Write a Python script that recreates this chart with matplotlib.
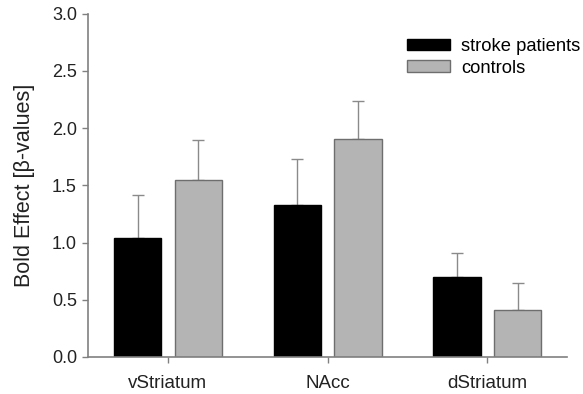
import matplotlib
matplotlib.use("Agg")
import matplotlib.pyplot as plt
import numpy as np

plt.rcParams['font.family'] = ['Liberation Sans', 'DejaVu Sans']

categories = ["vStriatum", "NAcc", "dStriatum"]
series_names = ["stroke patients", "controls"]
patients = [1.04, 1.33, 0.70]
patients_err = [0.38, 0.40, 0.21]
controls = [1.55, 1.905, 0.41]
controls_err = [0.35, 0.335, 0.24]
yticks = [0.0, 0.5, 1.0, 1.5, 2.0, 2.5, 3.0]

fig = plt.figure(figsize=(5.83, 3.94), dpi=100)
ax = fig.add_axes([0.151, 0.094, 0.822, 0.871])

x = np.arange(len(categories))
w = 0.296
off = 0.19
spine_col = "#808080"
text_col = "#222222"
err_kw = dict(ecolor="#8a8a8a", elinewidth=1.0, capsize=4, capthick=1.0)

ax.bar(x - off, patients, w, color="black", edgecolor="black", linewidth=1,
       label=series_names[0], zorder=2)
ax.errorbar(x - off, patients, yerr=[np.zeros(3), patients_err], fmt="none",
            zorder=1, **err_kw)
ax.bar(x + off, controls, w, color="#b4b4b4", edgecolor="#6e6e6e", linewidth=1,
       label=series_names[1], zorder=2)
ax.errorbar(x + off, controls, yerr=[np.zeros(3), controls_err], fmt="none",
            zorder=1, **err_kw)

ax.set_xlim(-0.5, 2.5)
ax.set_ylim(0, 3.0)
ax.set_yticks(yticks)
ax.set_yticklabels([f"{v:.1f}" for v in yticks])
ax.set_xticks(x)
ax.set_xticklabels(categories, fontsize=13.5)
ax.tick_params(axis='y', labelsize=13, length=4, width=1, direction='out',
               colors=spine_col, labelcolor=text_col, pad=4)
ax.tick_params(axis='x', length=4, width=1, colors=spine_col, labelcolor=text_col,
               pad=9)
for s in ["top", "right"]:
    ax.spines[s].set_visible(False)
for s in ["left", "bottom"]:
    ax.spines[s].set_color(spine_col)
    ax.spines[s].set_linewidth(1.2)

ax.set_ylabel("Bold Effect [β-values]", fontsize=15.5, color=text_col, labelpad=12)

leg = ax.legend(loc="upper left", bbox_to_anchor=(407 / 583, 1 - 38 / 394),
                bbox_transform=fig.transFigure, frameon=False,
                fontsize=13.2, handlelength=2.35, handleheight=0.6,
                handletextpad=0.6, labelspacing=0.25, borderaxespad=0,
                borderpad=0)

fig.savefig("out.png", dpi=100)
